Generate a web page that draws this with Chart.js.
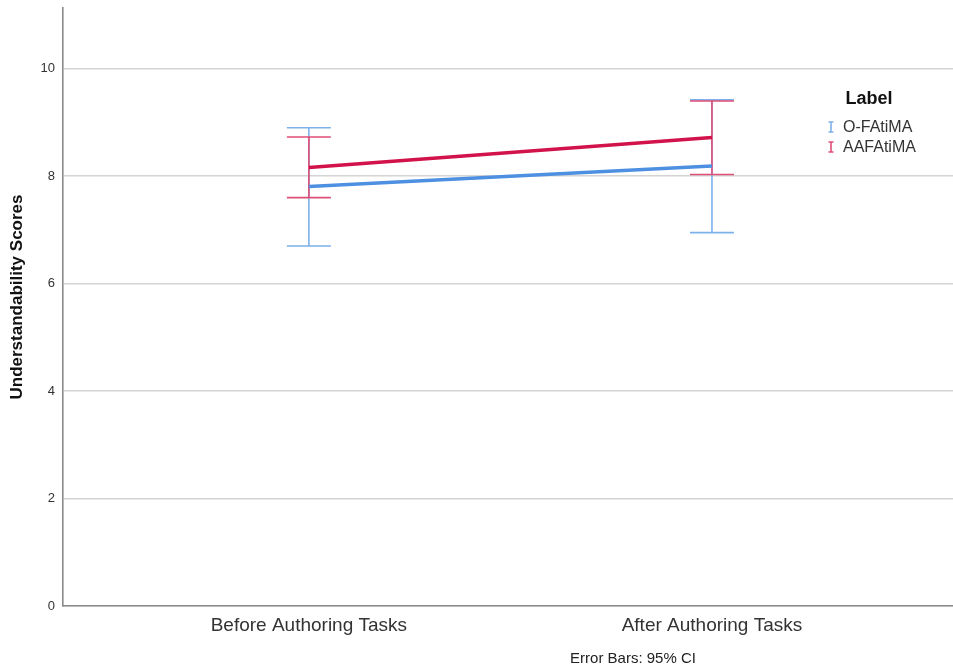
<!DOCTYPE html>
<html>
<head>
<meta charset="utf-8">
<script src="https://cdn.jsdelivr.net/npm/chart.js@4.4.1/dist/chart.umd.min.js"></script>
<style>
  html, body { margin: 0; padding: 0; background: #fff; }
  #wrap { width: 953px; height: 669px; }
</style>
</head>
<body>
<div id="wrap"><canvas id="c" width="953" height="669"></canvas></div>
<script>
// Time points on the x axis
const categories = ['Before Authoring Tasks', 'After Authoring Tasks'];
// Series names
const seriesNames = ['O-FAtiMA', 'AAFAtiMA'];
// Mean understandability scores
const ofatimaMean = [7.81, 8.19];
const aafatimaMean = [8.16, 8.72];
// 95% confidence interval bounds
const ofatimaLow = [6.70, 6.95];
const ofatimaHigh = [8.90, 9.42];
const aafatimaLow = [7.60, 8.03];
const aafatimaHigh = [8.73, 9.40];
// Y axis tick values
const yTicks = [0, 2, 4, 6, 8, 10];

const FONT = '"Liberation Sans", Arial, sans-serif';
const BLUE = '#4d90e2';
const BLUE_BAR = '#7db1ec';
const RED = '#d2124a';
const RED_BAR = '#de4f77';

const errorSeries = [
  { low: ofatimaLow, high: ofatimaHigh, color: BLUE_BAR },
  { low: aafatimaLow, high: aafatimaHigh, color: RED_BAR }
];

const errorBarPlugin = {
  id: 'errorBars',
  beforeDatasetsDraw(chart) {
    const { ctx, scales: { x, y } } = chart;
    ctx.save();
    ctx.lineWidth = 1.6;
    errorSeries.forEach(s => {
      ctx.strokeStyle = s.color;
      categories.forEach((_, i) => {
        const px = x.getPixelForValue(i);
        const yl = y.getPixelForValue(s.low[i]);
        const yh = y.getPixelForValue(s.high[i]);
        ctx.beginPath();
        ctx.moveTo(px, yl); ctx.lineTo(px, yh);
        ctx.moveTo(px - 22, yl); ctx.lineTo(px + 22, yl);
        ctx.moveTo(px - 22, yh); ctx.lineTo(px + 22, yh);
        ctx.stroke();
      });
    });
    ctx.restore();
  }
};

const annotationPlugin = {
  id: 'notes',
  afterDraw(chart) {
    const { ctx } = chart;
    ctx.save();
    // y axis title
    ctx.save();
    ctx.translate(17, 297);
    ctx.rotate(-Math.PI / 2);
    ctx.fillStyle = '#111';
    ctx.font = 'bold 17px ' + FONT;
    ctx.textAlign = 'center';
    ctx.textBaseline = 'middle';
    ctx.fillText('Understandability Scores', 0, 0);
    ctx.restore();
    // legend
    ctx.fillStyle = '#111';
    ctx.font = 'bold 18px ' + FONT;
    ctx.textAlign = 'center';
    ctx.textBaseline = 'middle';
    ctx.fillText('Label', 869, 99);
    const colors = [BLUE_BAR, RED_BAR];
    seriesNames.forEach((name, i) => {
      const cy = 127 + i * 20;
      ctx.strokeStyle = colors[i];
      ctx.lineWidth = 1.6;
      ctx.beginPath();
      ctx.moveTo(831, cy - 5); ctx.lineTo(831, cy + 5);
      ctx.moveTo(828.5, cy - 5); ctx.lineTo(833.5, cy - 5);
      ctx.moveTo(828.5, cy + 5); ctx.lineTo(833.5, cy + 5);
      ctx.stroke();
      ctx.fillStyle = '#333';
      ctx.font = '16px ' + FONT;
      ctx.textAlign = 'left';
      ctx.fillText(name, 843, cy + 1);
    });
    // footnote
    ctx.fillStyle = '#222';
    ctx.font = '15px ' + FONT;
    ctx.textAlign = 'center';
    ctx.fillText('Error Bars: 95% CI', 633, 659);
    ctx.restore();
  }
};

new Chart(document.getElementById('c'), {
  type: 'line',
  data: {
    datasets: [
      {
        label: seriesNames[0],
        data: categories.map((_, i) => ({ x: i, y: ofatimaMean[i] })),
        borderColor: BLUE,
        borderWidth: 3.5,
        pointRadius: 0
      },
      {
        label: seriesNames[1],
        data: categories.map((_, i) => ({ x: i, y: aafatimaMean[i] })),
        borderColor: RED,
        borderWidth: 3.5,
        pointRadius: 0
      }
    ]
  },
  options: {
    responsive: false,
    animation: false,
    layout: { padding: { top: 8, right: 0, bottom: 0, left: 0 } },
    plugins: {
      legend: { display: false },
      tooltip: { enabled: false }
    },
    scales: {
      x: {
        type: 'linear',
        min: -0.61,
        max: 1.598,
        afterBuildTicks(scale) {
          scale.ticks = categories.map((_, i) => ({ value: i }));
        },
        afterFit(scale) {
          scale.height = 63;
          scale.paddingLeft = 0;
          scale.paddingRight = 0;
        },
        grid: { display: false, drawTicks: false },
        border: { display: true, color: '#8a8a8a', width: 1.6 },
        ticks: {
          padding: 8,
          autoSkip: false,
          maxRotation: 0,
          color: '#333',
          font: { family: FONT, size: 19 },
          callback: v => categories[v] ?? ''
        }
      },
      y: {
        type: 'linear',
        min: 0,
        max: 11.13,
        afterBuildTicks(scale) {
          scale.ticks = yTicks.map(v => ({ value: v }));
        },
        afterFit(scale) {
          scale.width = 63;
          scale.paddingTop = 0;
          scale.paddingBottom = 0;
        },
        grid: { color: '#d4d4d4', lineWidth: 1.6, drawTicks: false },
        border: { display: true, color: '#8a8a8a', width: 1.6 },
        ticks: {
          padding: 8,
          color: '#333',
          font: { family: FONT, size: 13 }
        }
      }
    }
  },
  plugins: [errorBarPlugin, annotationPlugin]
});
</script>
</body>
</html>
